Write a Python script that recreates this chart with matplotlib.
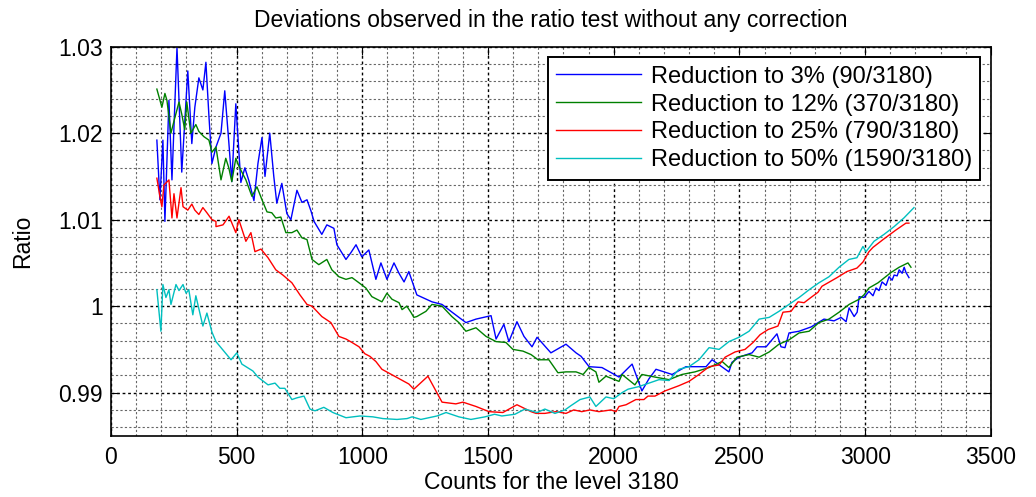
import matplotlib
matplotlib.use("Agg")
import matplotlib.pyplot as plt
from matplotlib.ticker import MultipleLocator

plt.rcParams['font.family'] = ['Liberation Sans', 'DejaVu Sans']

# values
x_blue = [183, 195, 207, 215, 231, 243, 263, 282, 306, 322, 334, 350, 366, 378, 390, 402, 418, 438, 453,
          469, 481, 497, 517, 533, 549, 569, 585, 601, 613, 632, 648, 660, 680, 700, 716, 740, 760, 780,
          796, 808, 839, 859, 887, 899, 935, 955, 975, 998, 1026, 1054, 1074, 1098, 1126, 1146, 1166, 1185,
          1205, 1217, 1277, 1317, 1357, 1412, 1452, 1512, 1532, 1563, 1583, 1615, 1643, 1675, 1695, 1750,
          1810, 1850, 1870, 1902, 1953, 2021, 2073, 2112, 2140, 2168, 2232, 2287, 2367, 2391, 2458, 2470,
          2498, 2550, 2570, 2606, 2629, 2649, 2665, 2681, 2697, 2737, 2785, 2836, 2876, 2904, 2924, 2936,
          2956, 2968, 2976, 2995, 3015, 3031, 3043, 3055, 3067, 3083, 3095, 3107, 3115, 3127, 3135, 3147,
          3155, 3162, 3174]
y_blue = [1.0192, 1.0123, 1.0192, 1.0098, 1.0238, 1.0146, 1.0299, 1.0155, 1.0272, 1.0188, 1.0230, 1.0264,
          1.0250, 1.0282, 1.0220, 1.0165, 1.0184, 1.0200, 1.0249, 1.0190, 1.0144, 1.0234, 1.0143, 1.0160,
          1.0145, 1.0122, 1.0165, 1.0195, 1.0150, 1.0200, 1.0150, 1.0119, 1.0142, 1.0107, 1.0100, 1.0134,
          1.0120, 1.0123, 1.0110, 1.0098, 1.0083, 1.0094, 1.0090, 1.0071, 1.0054, 1.0062, 1.0071, 1.0057,
          1.0065, 1.0031, 1.0050, 1.0031, 1.0050, 1.0038, 1.0028, 1.0040, 1.0023, 1.0013, 1.0005, 1.0002,
          0.9993, 0.9981, 0.9985, 0.9989, 0.9962, 0.9979, 0.9959, 0.9982, 0.9965, 0.9953, 0.9964, 0.9946,
          0.9956, 0.9946, 0.9942, 0.9930, 0.9929, 0.9918, 0.9933, 0.9902, 0.9916, 0.9927, 0.9921, 0.9930,
          0.9930, 0.9938, 0.9924, 0.9935, 0.9941, 0.9946, 0.9953, 0.9953, 0.9961, 0.9968, 0.9953, 0.9952,
          0.9969, 0.9971, 0.9976, 0.9985, 0.9983, 0.9987, 0.9982, 0.9998, 0.9988, 0.9993, 1.0011, 1.0010,
          1.0017, 1.0012, 1.0021, 1.0018, 1.0028, 1.0024, 1.0034, 1.0030, 1.0036, 1.0035, 1.0042, 1.0038,
          1.0045, 1.0039, 1.0033]

x_green = [183, 203, 215, 223, 239, 251, 271, 282, 294, 302, 318, 338, 350, 370, 390, 402, 418, 438, 457,
           469, 481, 497, 509, 521, 537, 561, 581, 601, 621, 640, 656, 676, 696, 720, 740, 760, 780, 800,
           827, 859, 879, 907, 935, 959, 987, 1014, 1038, 1058, 1078, 1098, 1118, 1146, 1158, 1177, 1193,
           1205, 1217, 1253, 1277, 1317, 1356, 1384, 1412, 1452, 1492, 1532, 1571, 1599, 1639, 1671, 1699,
           1742, 1778, 1810, 1850, 1878, 1901, 1929, 1941, 1969, 2021, 2033, 2084, 2112, 2164, 2220, 2271,
           2323, 2379, 2431, 2458, 2490, 2538, 2578, 2618, 2657, 2697, 2737, 2777, 2816, 2856, 2896, 2936,
           2976, 2995, 3015, 3051, 3103, 3135, 3170, 3182]
y_green = [1.0251, 1.0230, 1.0246, 1.0238, 1.0200, 1.0214, 1.0236, 1.0222, 1.0204, 1.0236, 1.0200, 1.0210,
           1.0202, 1.0196, 1.0192, 1.0178, 1.0184, 1.0146, 1.0171, 1.0160, 1.0144, 1.0171, 1.0162, 1.0155,
           1.0146, 1.0127, 1.0138, 1.0123, 1.0109, 1.0108, 1.0102, 1.0103, 1.0085, 1.0085, 1.0088, 1.0079,
           1.0077, 1.0054, 1.0048, 1.0054, 1.0042, 1.0034, 1.0031, 1.0033, 1.0027, 1.0021, 1.0011, 1.0008,
           1.0005, 1.0015, 1.0008, 1.0004, 0.9996, 1.0000, 0.9993, 0.9987, 0.9988, 0.9994, 1.0002, 1.0000,
           0.9988, 0.9981, 0.9971, 0.9975, 0.9965, 0.9959, 0.9958, 0.9950, 0.9948, 0.9944, 0.9938, 0.9938,
           0.9923, 0.9924, 0.9924, 0.9921, 0.9929, 0.9924, 0.9912, 0.9919, 0.9913, 0.9921, 0.9909, 0.9921,
           0.9918, 0.9915, 0.9921, 0.9924, 0.9929, 0.9936, 0.9929, 0.9941, 0.9944, 0.9941, 0.9947, 0.9956,
           0.9961, 0.9969, 0.9971, 0.9981, 0.9985, 0.9993, 1.0002, 1.0008, 1.0013, 1.0021, 1.0027, 1.0039,
           1.0045, 1.0050, 1.0045]

x_red = [183, 195, 203, 211, 231, 243, 251, 263, 279, 287, 306, 322, 334, 350, 366, 382, 402, 418, 418,
         446, 470, 497, 509, 537, 557, 573, 597, 625, 656, 684, 720, 752, 780, 800, 839, 875, 907, 935, 959,
         987, 1010, 1030, 1054, 1078, 1185, 1205, 1261, 1317, 1372, 1400, 1452, 1504, 1559, 1615, 1671,
         1691, 1726, 1770, 1810, 1841, 1873, 1905, 1941, 1989, 2009, 2021, 2049, 2088, 2120, 2136, 2164,
         2204, 2259, 2299, 2339, 2379, 2419, 2443, 2482, 2522, 2554, 2582, 2614, 2653, 2673, 2705, 2733,
         2757, 2784, 2812, 2828, 2852, 2888, 2927, 2967, 2991, 3015, 3031, 3071, 3122, 3162, 3174]
y_red = [1.0148, 1.0127, 1.0115, 1.0140, 1.0146, 1.0102, 1.0130, 1.0102, 1.0137, 1.0115, 1.0111, 1.0118,
         1.0111, 1.0106, 1.0114, 1.0108, 1.0100, 1.0098, 1.0092, 1.0094, 1.0104, 1.0085, 1.0100, 1.0075,
         1.0085, 1.0063, 1.0066, 1.0056, 1.0042, 1.0036, 1.0027, 1.0013, 1.0002, 1.0000, 0.9988, 0.9981,
         0.9965, 0.9962, 0.9958, 0.9953, 0.9945, 0.9942, 0.9936, 0.9927, 0.9910, 0.9904, 0.9919, 0.9889,
         0.9887, 0.9889, 0.9884, 0.9878, 0.9877, 0.9886, 0.9878, 0.9876, 0.9876, 0.9878, 0.9876, 0.9880,
         0.9878, 0.9880, 0.9878, 0.9880, 0.9878, 0.9884, 0.9886, 0.9892, 0.9892, 0.9896, 0.9896, 0.9902,
         0.9908, 0.9913, 0.9921, 0.9930, 0.9932, 0.9941, 0.9947, 0.9950, 0.9958, 0.9967, 0.9973, 0.9977,
         0.9993, 0.9994, 1.0005, 1.0004, 1.0010, 1.0016, 1.0023, 1.0027, 1.0033, 1.0040, 1.0044, 1.0051,
         1.0063, 1.0068, 1.0077, 1.0088, 1.0096, 1.0096]

x_cyan = [183, 199, 207, 219, 231, 239, 259, 271, 287, 299, 310, 326, 338, 366, 382, 402, 418, 478, 501,
          521, 565, 585, 625, 653, 672, 692, 720, 740, 768, 792, 812, 847, 883, 935, 991, 1042, 1082, 1138,
          1178, 1198, 1233, 1297, 1333, 1384, 1432, 1488, 1526, 1555, 1607, 1647, 1695, 1726, 1766, 1806,
          1830, 1866, 1905, 1929, 1969, 2000, 2033, 2057, 2100, 2140, 2180, 2220, 2259, 2299, 2339, 2379,
          2419, 2458, 2498, 2538, 2578, 2618, 2657, 2697, 2737, 2777, 2816, 2856, 2896, 2935, 2967, 2991,
          3003, 3035, 3075, 3115, 3154, 3174, 3194]
y_cyan = [1.0019, 0.9971, 1.0025, 1.0010, 1.0019, 1.0002, 1.0025, 1.0018, 1.0025, 1.0015, 1.0019, 0.9990,
          1.0012, 0.9977, 0.9992, 0.9970, 0.9959, 0.9938, 0.9946, 0.9933, 0.9925, 0.9918, 0.9909, 0.9911,
          0.9905, 0.9905, 0.9892, 0.9894, 0.9896, 0.9881, 0.9879, 0.9883, 0.9877, 0.9871, 0.9873, 0.9872,
          0.9870, 0.9869, 0.9870, 0.9872, 0.9869, 0.9873, 0.9877, 0.9872, 0.9869, 0.9872, 0.9875, 0.9873,
          0.9875, 0.9881, 0.9877, 0.9881, 0.9876, 0.9880, 0.9885, 0.9892, 0.9895, 0.9884, 0.9895, 0.9893,
          0.9900, 0.9904, 0.9907, 0.9911, 0.9915, 0.9914, 0.9927, 0.9930, 0.9938, 0.9952, 0.9950, 0.9959,
          0.9964, 0.9971, 0.9985, 0.9987, 0.9994, 1.0002, 1.0010, 1.0019, 1.0027, 1.0034, 1.0045, 1.0054,
          1.0056, 1.0069, 1.0063, 1.0075, 1.0083, 1.0092, 1.0102, 1.0108, 1.0114]

labels = ['Reduction to 3% (90/3180)', 'Reduction to 12% (370/3180)',
          'Reduction to 25% (790/3180)', 'Reduction to 50% (1590/3180)']
colors = ['#0000ff', '#008000', '#ff0000', '#00bfbf']

fig = plt.figure(figsize=(10.36, 4.97), dpi=100)
ax = fig.add_axes([0.107, 0.123, 0.8495, 0.783])

series = [(x_blue, y_blue), (x_green, y_green), (x_red, y_red), (x_cyan, y_cyan)]
for (xs, ys), c, lab in zip(series, colors, labels):
    ax.plot(xs, ys, color=c, lw=1.0, label=lab)

ax.set_xlim(0, 3500)
ax.set_ylim(0.985, 1.03)
ax.xaxis.set_major_locator(MultipleLocator(500))
ax.xaxis.set_minor_locator(MultipleLocator(100))
ax.yaxis.set_major_locator(MultipleLocator(0.01))
ax.yaxis.set_minor_locator(MultipleLocator(0.002))
ax.set_yticks([0.99, 1.0, 1.01, 1.02, 1.03])
ax.set_yticklabels(['0.99', '1', '1.01', '1.02', '1.03'])

ax.grid(which='major', color='black', linestyle=(0, (2, 2)), lw=1.0)
ax.grid(which='minor', color='#666666', linestyle=(0, (2, 2)), lw=0.8)
ax.set_axisbelow(True)
ax.tick_params(which='both', direction='in', top=True, right=True, labelsize=16.5)
ax.tick_params(which='major', length=6)
ax.tick_params(which='minor', length=0)
ax.tick_params(axis='x', pad=7)
ax.tick_params(axis='y', pad=6)
for s in ax.spines.values():
    s.set_linewidth(1.2)

ax.set_title('Deviations observed in the ratio test without any correction', fontsize=16.5, pad=14)
ax.set_xlabel('Counts for the level 3180', fontsize=16.5, labelpad=2)
ax.set_ylabel('Ratio', fontsize=16.5, labelpad=17)

leg = ax.legend(loc='upper right', fontsize=17, frameon=True, fancybox=False,
                edgecolor='black', framealpha=1, handlelength=3.6, handletextpad=0.4,
                borderaxespad=0.45, labelspacing=0.25, borderpad=0.35)
leg.get_frame().set_linewidth(1.4)

fig.savefig('out.png', dpi=100)
